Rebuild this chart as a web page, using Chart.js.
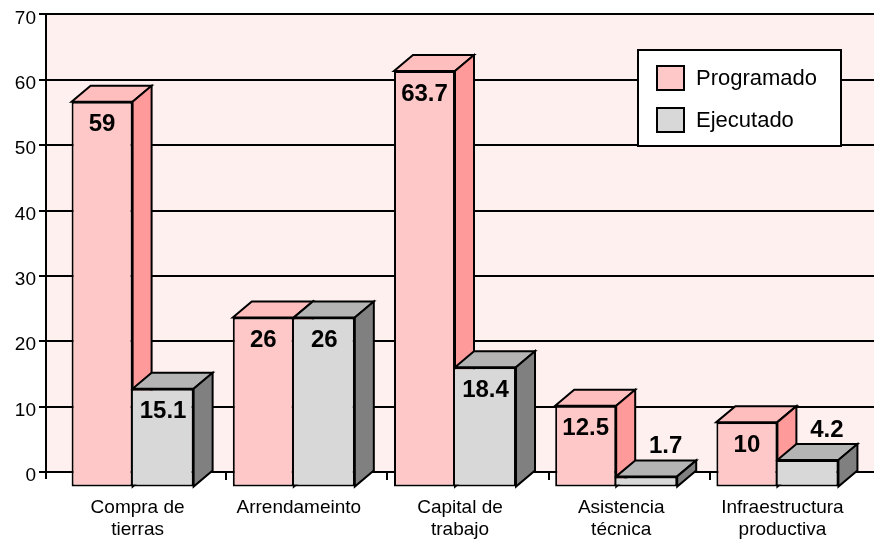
<!DOCTYPE html>
<html>
<head>
<meta charset="utf-8">
<script src="https://cdn.jsdelivr.net/npm/chart.js@4.4.0/dist/chart.umd.min.js"></script>
<style>
  html, body { margin: 0; padding: 0; background: #fff; }
</style>
</head>
<body>
<canvas id="chart" width="874" height="543"></canvas>
<script>
// data
const categorias = [["Compra de", "tierras"], "Arrendameinto", ["Capital de", "trabajo"], ["Asistencia", "técnica"], ["Infraestructura", "productiva"]];
const programado = [59, 26, 63.7, 12.5, 10];
const ejecutado = [15.1, 26, 18.4, 1.7, 4.2];
const series = ["Programado", "Ejecutado"];
const yMin = 0, yMax = 70, yStep = 10;

// face colours per series: front, top, side
const caras = [
  { front: "#FFC8C8", top: "#FFBEBE", side: "#FF9A9A" },
  { front: "#D8D8D8", top: "#B4B4B4", side: "#808080" },
];
const FONT = "'Liberation Sans', Arial, sans-serif";
const DX = 19, DY = 16;    // depth of top / side faces
const SX = 6, SY = 15.5;   // front plane offset from the back wall

function poly(ctx, pts) {
  ctx.beginPath();
  ctx.moveTo(pts[0][0], pts[0][1]);
  for (let k = 1; k < pts.length; k++) ctx.lineTo(pts[k][0], pts[k][1]);
  ctx.closePath();
  ctx.fill();
  ctx.stroke();
}

// Fake Excel style 3d columns on a pink back wall
const wall3d = {
  id: "wall3d",
  beforeDraw(chart) {
    const { ctx, chartArea: a } = chart;
    const y = chart.scales.y, x = chart.scales.x;
    ctx.save();
    ctx.fillStyle = "#fff";
    ctx.fillRect(0, 0, chart.width, chart.height);
    ctx.fillStyle = "#FFF0F0";
    ctx.fillRect(a.left, a.top, chart.width - a.left, a.bottom - a.top);
    ctx.strokeStyle = "#000";
    ctx.lineWidth = 2;
    y.ticks.forEach(t => {
      const py = Math.round(y.getPixelForValue(t.value));
      ctx.beginPath(); ctx.moveTo(a.left, py); ctx.lineTo(chart.width, py); ctx.stroke();
    });
    // category tick marks under the wall
    for (let i = 1; i < categorias.length; i++) {
      const px = Math.round((x.getPixelForValue(i - 1) + x.getPixelForValue(i)) / 2) + DX;
      ctx.beginPath(); ctx.moveTo(px, a.bottom); ctx.lineTo(px, a.bottom + 8); ctx.stroke();
    }
    ctx.beginPath(); ctx.moveTo(a.left, a.bottom); ctx.lineTo(a.left, a.bottom + 7); ctx.stroke();
    ctx.restore();
  },
  beforeDatasetsDraw(chart) {
    const ctx = chart.ctx;
    ctx.save();
    ctx.translate(SX, SY);
    ctx.lineWidth = 2;
    ctx.strokeStyle = "#000";
    const metas = chart.data.datasets.map((d, i) => chart.getDatasetMeta(i));
    for (let j = 0; j < categorias.length; j++) {
      metas.forEach((m, i) => {
        const { x, y, base, width } = m.data[j].getProps(["x", "y", "base", "width"], true);
        const L = x - width / 2, R = x + width / 2;
        ctx.fillStyle = caras[i].top;
        poly(ctx, [[L, y], [L + DX, y - DY], [R + DX, y - DY], [R, y]]);
        ctx.fillStyle = caras[i].side;
        poly(ctx, [[R, y], [R + DX, y - DY], [R + DX, base - DY], [R, base]]);
      });
    }
    // translation stays on while chart.js draws the front faces
  },
  afterDatasetsDraw(chart) {
    const ctx = chart.ctx;
    ctx.restore();
    ctx.save();
    ctx.font = "bold 24px " + FONT;
    ctx.textAlign = "center";
    ctx.textBaseline = "middle";
    ctx.fillStyle = "#000";
    chart.data.datasets.forEach((ds, i) => {
      chart.getDatasetMeta(i).data.forEach((el, j) => {
        const { x, y, base } = el.getProps(["x", "y", "base"], true);
        const fx = x + SX, fy = y + SY;
        if (base - y > 30) ctx.fillText(String(ds.data[j]), fx, fy + 23);
        else ctx.fillText(String(ds.data[j]), fx + DX, fy - 30);
      });
    });
    ctx.restore();
  },
  afterDraw(chart) {
    const ctx = chart.ctx;
    ctx.save();
    ctx.fillStyle = "#fff";
    ctx.strokeStyle = "#000";
    ctx.lineWidth = 2;
    ctx.fillRect(638, 50, 203, 96);
    ctx.strokeRect(638, 50, 203, 96);
    ctx.font = "22px " + FONT;
    ctx.textBaseline = "middle";
    ctx.textAlign = "left";
    chart.data.datasets.forEach((ds, i) => {
      const top = 66 + i * 42;
      ctx.fillStyle = caras[i].front;
      ctx.fillRect(657, top, 27, 24);
      ctx.strokeRect(657, top, 27, 24);
      ctx.fillStyle = "#000";
      ctx.fillText(ds.label, 696, top + 13);
    });
    ctx.restore();
  }
};

new Chart(document.getElementById("chart"), {
  type: "bar",
  data: {
    labels: categorias,
    datasets: [
      {
        label: series[0],
        data: programado,
        backgroundColor: caras[0].front,
        borderColor: "#000",
        borderWidth: 2,
        borderSkipped: false,
      },
      {
        label: series[1],
        data: ejecutado,
        backgroundColor: caras[1].front,
        borderColor: "#000",
        borderWidth: 2,
        borderSkipped: "left",
      },
    ],
  },
  options: {
    responsive: false,
    animation: false,
    devicePixelRatio: 1,
    categoryPercentage: 0.757,
    barPercentage: 1,
    layout: { padding: { top: 13, right: 22, left: 0, bottom: 0 } },
    plugins: {
      legend: { display: false },
      tooltip: { enabled: false },
    },
    scales: {
      x: {
        grid: { display: false, drawTicks: false },
        border: { display: false },
        ticks: {
          color: "#000",
          font: { family: FONT, size: 19 },
          padding: 24,
          labelOffset: 11,
          maxRotation: 0,
          autoSkip: false,
        },
        afterFit: (s) => { s.height = 71; },
      },
      y: {
        min: yMin,
        max: yMax,
        ticks: {
          stepSize: yStep,
          color: "#000",
          font: { family: FONT, size: 19 },
          padding: 3,
          labelOffset: 4,
        },
        grid: { drawOnChartArea: false, drawTicks: true, tickLength: 7, color: "#000", lineWidth: 2 },
        border: { display: true, color: "#000", width: 2 },
        afterFit: (s) => { s.width = 46; },
      },
    },
  },
  plugins: [wall3d],
});
</script>
</body>
</html>
